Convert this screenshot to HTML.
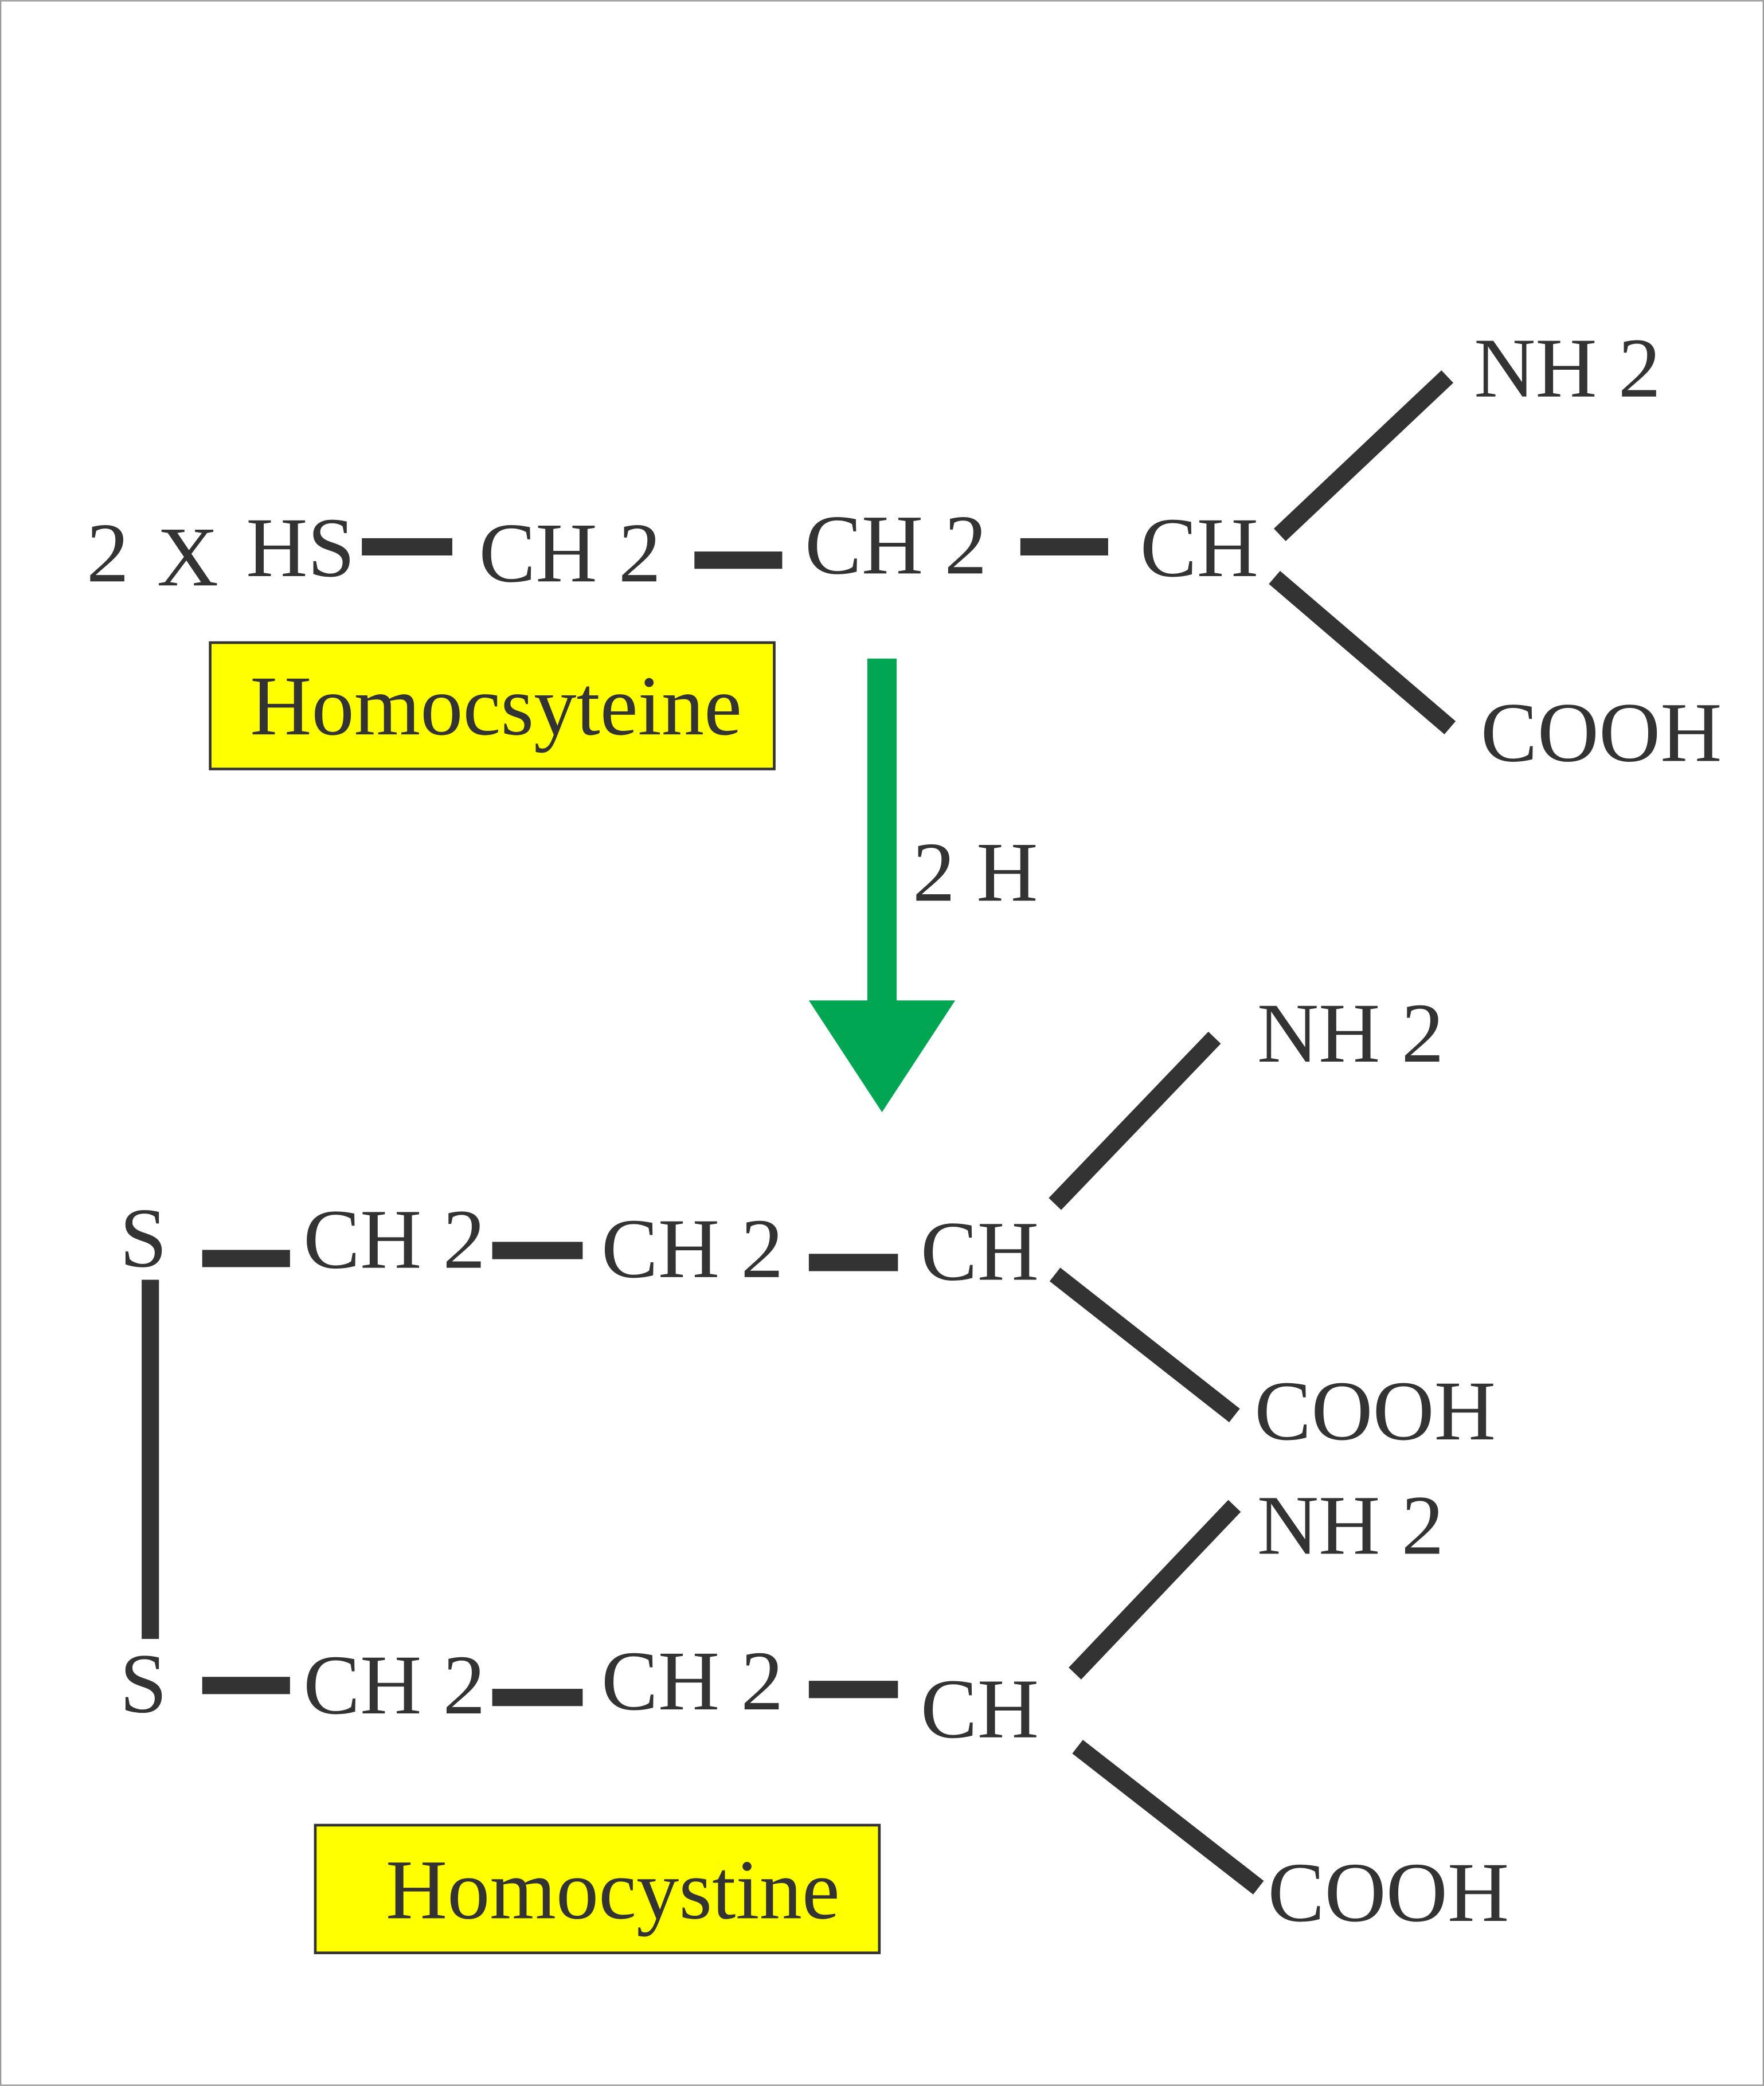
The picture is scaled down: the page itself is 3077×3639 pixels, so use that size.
<!DOCTYPE html>
<html><head><meta charset="utf-8"><style>html,body{margin:0;padding:0;background:#fff}svg{display:block}</style></head>
<body>
<svg width="3077" height="3639" viewBox="0 0 1326 1568" xmlns="http://www.w3.org/2000/svg">
<rect x="0.5" y="0.5" width="1325" height="1567" fill="#fff" stroke="#999" stroke-width="1"/>
<g font-family="'Liberation Serif', serif" font-size="64" fill="#333">
<text x="65" y="437">2</text>
<text x="118" y="440">X</text>
<text x="185" y="433">HS</text>
<text x="360" y="437">CH 2</text>
<text x="605" y="431">CH 2</text>
<text x="857" y="433">CH</text>
<text x="1108" y="298">NH 2</text>
<text x="1113" y="572">COOH</text>
<text x="686" y="677">2 H</text>
<text x="90" y="952">S</text>
<text x="228" y="953">CH 2</text>
<text x="452" y="960">CH 2</text>
<text x="692" y="962">CH</text>
<text x="945" y="798">NH 2</text>
<text x="943" y="1082">COOH</text>
<text x="90" y="1287">S</text>
<text x="228" y="1288">CH 2</text>
<text x="452" y="1285">CH 2</text>
<text x="692" y="1306">CH</text>
<text x="945" y="1168">NH 2</text>
<text x="953" y="1444">COOH</text>
</g>
<g stroke="#333" stroke-width="13" fill="none">
<line x1="272" y1="411" x2="340" y2="411"/>
<line x1="522" y1="421" x2="588" y2="421"/>
<line x1="767" y1="411" x2="833" y2="411"/>
<line x1="962" y1="402" x2="1088" y2="283"/>
<line x1="958" y1="434" x2="1090" y2="547"/>
<line x1="152" y1="946" x2="218" y2="946"/>
<line x1="370" y1="940" x2="438" y2="940"/>
<line x1="608" y1="949" x2="675" y2="949"/>
<line x1="793" y1="905" x2="913" y2="780"/>
<line x1="793" y1="958" x2="928" y2="1064"/>
<line x1="113" y1="962" x2="113" y2="1232"/>
<line x1="152" y1="1267" x2="218" y2="1267"/>
<line x1="370" y1="1276" x2="438" y2="1276"/>
<line x1="608" y1="1270" x2="675" y2="1270"/>
<line x1="808" y1="1258" x2="928" y2="1132"/>
<line x1="810" y1="1313" x2="946" y2="1419"/>
</g>
<rect x="652" y="495" width="22" height="260" fill="#00a651"/>
<polygon points="608,752 718,752 663,836" fill="#00a651"/>
<rect x="158" y="483" width="424" height="95" fill="#ffff00" stroke="#333" stroke-width="2"/>
<text x="188" y="552" font-family="'Liberation Serif', serif" font-size="64" fill="#333">Homocsyteine</text>
<rect x="237" y="1372" width="424" height="96" fill="#ffff00" stroke="#333" stroke-width="2"/>
<text x="290" y="1442" font-family="'Liberation Serif', serif" font-size="64" fill="#333">Homocystine</text>
</svg>
</body></html>
